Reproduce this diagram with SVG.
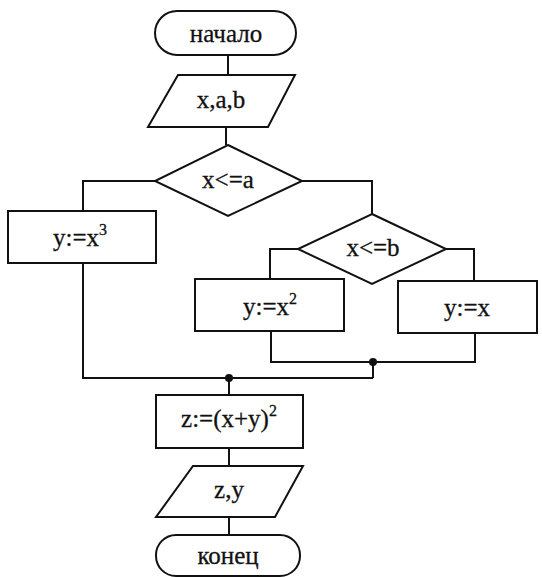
<svg xmlns="http://www.w3.org/2000/svg" width="542" height="577" viewBox="0 0 542 577">
  <style>
    .shape { fill: #fff; stroke: #111; stroke-width: 2; }
    .wire { fill: none; stroke: #111; stroke-width: 2; }
    .lbl { font-family: "Liberation Serif", "Times New Roman", serif; font-size: 25px; fill: #111; stroke: #111; stroke-width: 0.3; text-anchor: middle; }
    .sup { font-size: 16px; }
  </style>
  <rect width="542" height="577" fill="#fff"/>

  <g id="connectors">
    <path class="wire" d="M228 55 V75"/>
    <path class="wire" d="M226 127 V145"/>
    <path class="wire" d="M155 181 H83 V211"/>
    <path class="wire" d="M302 181 H372 V214"/>
    <path class="wire" d="M298 249 H270 V279"/>
    <path class="wire" d="M446 249 H474 V281"/>
    <path class="wire" d="M271 331 V362 H475 V333"/>
    <path class="wire" d="M373 362 V378"/>
    <path class="wire" d="M83 263 V378 H373"/>
    <path class="wire" d="M229 378 V395"/>
    <path class="wire" d="M229 448 V466"/>
    <path class="wire" d="M229 517 V535"/>
    <circle cx="373" cy="362" r="4" fill="#111"/>
    <circle cx="229" cy="378" r="4" fill="#111"/>
  </g>

  <g id="start">
    <rect class="shape" x="155" y="11" width="141" height="44" rx="22"/>
    <text class="lbl" x="226" y="42">начало</text>
  </g>

  <g id="input">
    <polygon class="shape" points="178,75 295,75 268,127 148,127"/>
    <text class="lbl" x="221" y="108">x,a,b</text>
  </g>

  <g id="cond-a">
    <polygon class="shape" points="228,145 302,181 228,216 155,181"/>
    <text class="lbl" x="228" y="188">x&lt;=a</text>
  </g>

  <g id="assign-cube">
    <rect class="shape" x="8" y="211" width="148" height="52"/>
    <text class="lbl" x="80" y="246">y:=x<tspan class="sup" dy="-11">3</tspan></text>
  </g>

  <g id="cond-b">
    <polygon class="shape" points="372,214 446,249 372,284 298,249"/>
    <text class="lbl" x="373" y="256">x&lt;=b</text>
  </g>

  <g id="assign-square">
    <rect class="shape" x="195" y="279" width="149" height="52"/>
    <text class="lbl" x="270" y="315">y:=x<tspan class="sup" dy="-11">2</tspan></text>
  </g>

  <g id="assign-x">
    <rect class="shape" x="398" y="281" width="139" height="52"/>
    <text class="lbl" x="467" y="316">y:=x</text>
  </g>

  <g id="compute-z">
    <rect class="shape" x="156" y="395" width="147" height="53"/>
    <text class="lbl" x="229" y="427">z:=(x+y)<tspan class="sup" dy="-11">2</tspan></text>
  </g>

  <g id="output">
    <polygon class="shape" points="193,466 303,466 275,517 156,517"/>
    <text class="lbl" x="229" y="498">z,y</text>
  </g>

  <g id="end">
    <rect class="shape" x="156" y="535" width="144" height="41" rx="20"/>
    <text class="lbl" x="228" y="564">конец</text>
  </g>
</svg>
